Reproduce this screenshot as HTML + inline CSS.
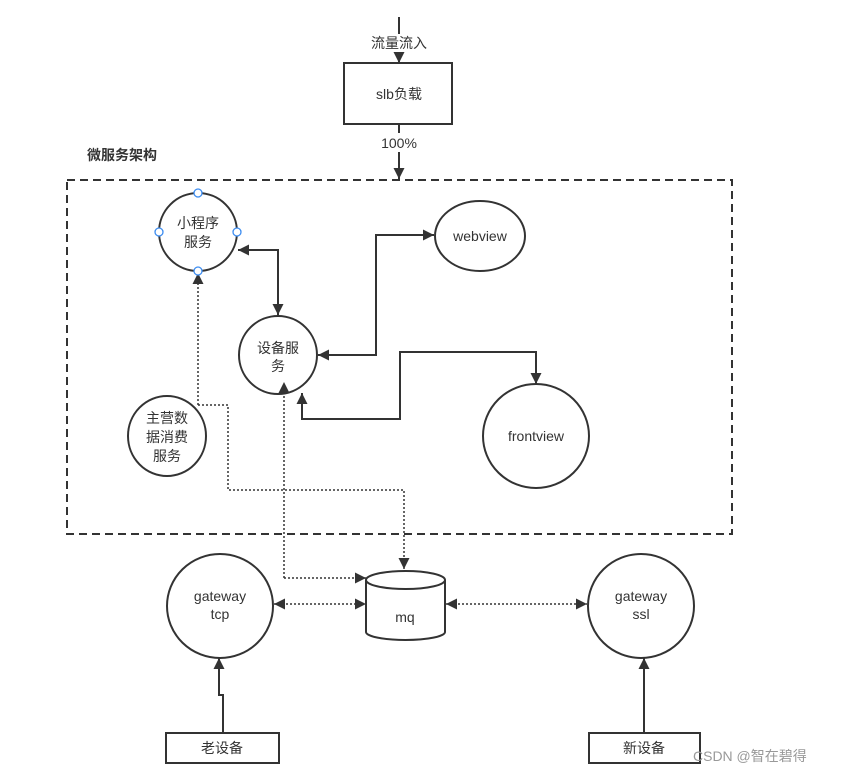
<!DOCTYPE html>
<html><head><meta charset="utf-8"><style>
html,body{margin:0;padding:0;background:#fff;}
svg{display:block}
text{font-family:"Liberation Sans","Noto Sans CJK SC",sans-serif;fill:#333;font-size:14px;}
</style></head><body>
<svg width="844" height="775" viewBox="0 0 844 775" xmlns="http://www.w3.org/2000/svg">
<defs>
<marker id="a" viewBox="0 0 10 10" refX="10" refY="5" markerWidth="11" markerHeight="11" markerUnits="userSpaceOnUse" orient="auto-start-reverse">
<path d="M0,0 L10,5 L0,10 z" fill="#333"/></marker>
</defs>
<g stroke="#333" stroke-width="2" fill="none">
<line x1="399" y1="17" x2="399" y2="34"/>
<line x1="399" y1="52" x2="399" y2="63" marker-end="url(#a)"/>
<rect x="344" y="63" width="108" height="61" fill="#fff"/>
<line x1="399" y1="124" x2="399" y2="133"/>
<line x1="399" y1="152" x2="399" y2="179" marker-end="url(#a)"/>
<rect x="67" y="180" width="665" height="354" stroke-dasharray="8,5"/>
<circle cx="198" cy="232" r="39"/>
<ellipse cx="480" cy="236" rx="45" ry="35"/>
<circle cx="278" cy="355" r="39"/>
<ellipse cx="167" cy="436" rx="39" ry="40"/>
<ellipse cx="536" cy="436" rx="53" ry="52"/>
<ellipse cx="220" cy="606" rx="53" ry="52"/>
<ellipse cx="641" cy="606" rx="53" ry="52"/>
<path d="M366,580 L366,632 A39.5,8 0 0 0 445,632 L445,580" fill="#fff"/>
<ellipse cx="405.5" cy="580" rx="39.5" ry="9" fill="#fff"/>
<rect x="166" y="733" width="113" height="30"/>
<rect x="589" y="733" width="111" height="30"/>
<path d="M238,250 L278,250 L278,315" marker-start="url(#a)" marker-end="url(#a)"/>
<path d="M318,355 L376,355 L376,235 L434,235" marker-start="url(#a)" marker-end="url(#a)"/>
<path d="M302,393 L302,419 L400,419 L400,352 L536,352 L536,384" marker-start="url(#a)" marker-end="url(#a)"/>
<path d="M223,733 L223,695 L219,695 L219,658" marker-end="url(#a)"/>
<line x1="644" y1="733" x2="644" y2="658" marker-end="url(#a)"/>
</g>
<g stroke="#333" stroke-width="1.5" fill="none" stroke-dasharray="2,2">
<path d="M198,405 L228,405 L228,490 L404,490 L404,569" marker-end="url(#a)"/>
<line x1="198" y1="405" x2="198" y2="273" marker-end="url(#a)"/>
<path d="M284,578 L366,578" marker-end="url(#a)"/>
<line x1="284" y1="578" x2="284" y2="382" marker-end="url(#a)"/>
<line x1="274" y1="604" x2="366" y2="604" marker-start="url(#a)" marker-end="url(#a)"/>
<line x1="446" y1="604" x2="587" y2="604" marker-start="url(#a)" marker-end="url(#a)"/>
</g>
<g fill="#fff" stroke="#3c8cf0" stroke-width="1.3">
<circle cx="198" cy="193" r="4"/><circle cx="198" cy="271" r="4"/>
<circle cx="159" cy="232" r="4"/><circle cx="237" cy="232" r="4"/>
</g>
<g text-anchor="middle">
<text x="399" y="48">流量流入</text>
<text x="399" y="99">slb负载</text>
<text x="399" y="148">100%</text>
<text x="198" y="228">小程序</text><text x="198" y="247">服务</text>
<text x="480" y="241">webview</text>
<text x="278" y="353">设备服</text><text x="278" y="371">务</text>
<text x="167" y="423">主营数</text><text x="167" y="442">据消费</text><text x="167" y="461">服务</text>
<text x="536" y="441">frontview</text>
<text x="220" y="601">gateway</text><text x="220" y="619">tcp</text>
<text x="405" y="622">mq</text>
<text x="641" y="601">gateway</text><text x="641" y="619">ssl</text>
<text x="222" y="753">老设备</text>
<text x="644" y="753">新设备</text>
</g>
<text x="87" y="160" font-weight="bold" font-size="13">微服务架构</text>
<text x="693" y="761" style="fill:#999" font-size="15">CSDN @智在碧得</text>
</svg>
</body></html>
